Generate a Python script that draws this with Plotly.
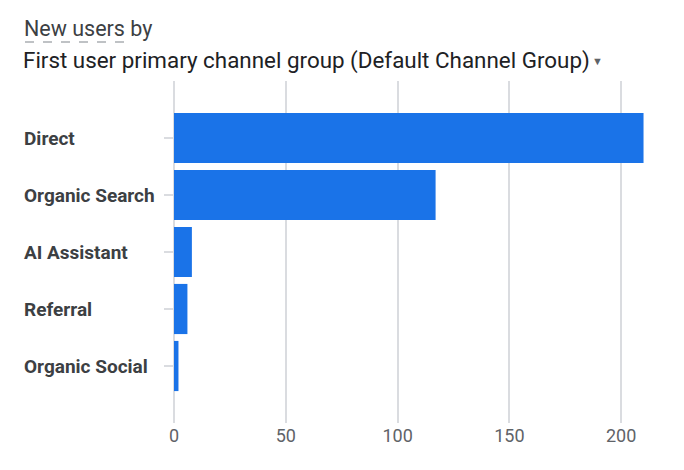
import plotly.graph_objects as go

categories = ["Direct", "Organic Search", "AI Assistant", "Referral", "Organic Social"]
new_users = [210, 117, 8, 6, 2]
x_ticks = [0, 50, 100, 150, 200]

OFF = 8
L, R, T, B = 174 - OFF, 44, 81 - OFF, 55
W, H = 684, 470
pw = W - L - R
ph = H - T - B

def px(x):
    return (x - OFF - L) / pw

def py(y):
    return 1 - (y - OFF - T) / ph

fig = go.Figure(go.Bar(
    x=new_users, y=list(range(len(categories))), orientation="h",
    marker=dict(color="#1a73e8", line=dict(width=0)),
    hoverinfo="skip",
))
fig.update_layout(
    width=W, height=H, margin=dict(l=L, r=R, t=T, b=B),
    paper_bgcolor="white", plot_bgcolor="white",
    bargap=0.12, showlegend=False,
    font=dict(family="Roboto", color="#3c4043"),
    xaxis=dict(range=[0, 212], tickvals=x_ticks, showgrid=True, gridcolor="#dadce0",
               gridwidth=1.5, zeroline=True, zerolinecolor="#dadce0", zerolinewidth=1.5,
               tickfont=dict(size=18, color="#5f6368"), ticks="", fixedrange=True),
    yaxis=dict(range=[5, -1], tickvals=list(range(len(categories))), showticklabels=False,
               ticks="outside", ticklen=9, tickcolor="#dadce0", tickwidth=1.5,
               showgrid=False, zeroline=False, showline=False),
)
for i, c in enumerate(categories):
    fig.add_annotation(text="<b>" + c + "</b>", xref="paper", yref="y", x=px(22), y=i,
                       xanchor="left", yanchor="middle", showarrow=False,
                       font=dict(size=19, color="#3c4043", family="Roboto"))
fig.add_annotation(text="New users by", xref="paper", yref="paper",
                   x=px(22), y=py(28), xanchor="left", yanchor="middle",
                   showarrow=False, font=dict(size=21.5, color="#3c4043"))
fig.add_shape(type="line", xref="paper", yref="paper",
              x0=px(25), x1=px(127), y0=py(42), y1=py(42),
              line=dict(color="#80868b", width=1.2, dash="dash"))
fig.add_annotation(text="First user primary channel group (Default Channel Group)", xref="paper", yref="paper",
                   x=px(21), y=py(60), xanchor="left", yanchor="middle",
                   showarrow=False, font=dict(size=22.4, color="#202124"))
fig.add_annotation(text="▼", xref="paper", yref="paper",
                   x=px(590), y=py(61), xanchor="left", yanchor="middle",
                   showarrow=False, font=dict(size=11, color="#5f6368"))
fig.write_html("out.html")
